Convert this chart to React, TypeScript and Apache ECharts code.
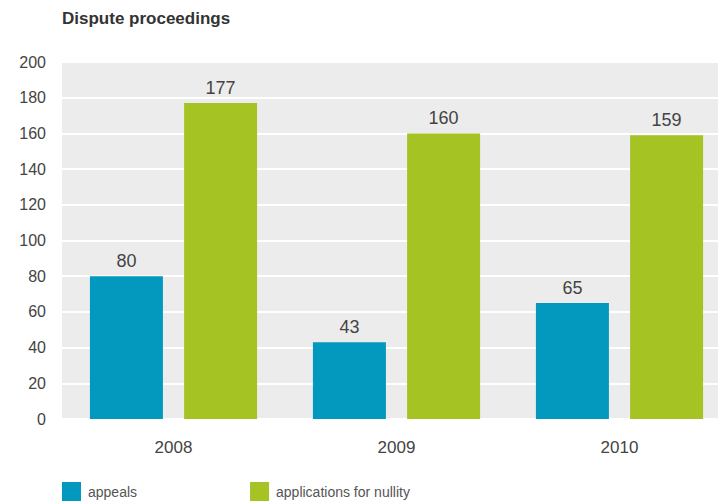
import React, { useEffect, useRef } from "react";
import * as echarts from "echarts";

const categories = ["2008", "2009", "2010"];
const appeals = [80, 43, 65];
const nullity = [177, 160, 159];
const seriesNames = ["appeals", "applications for nullity"];
const titleText = "Dispute proceedings";

const FONT = "'Liberation Sans', Arial, Helvetica, sans-serif";

export default function App() {
  const ref = useRef<HTMLDivElement>(null);
  useEffect(() => {
    if (!ref.current) return;
    const chart = echarts.init(ref.current, undefined, { renderer: "svg" });
    chart.setOption({
      animation: false,
      backgroundColor: "#ffffff",
      textStyle: { fontFamily: FONT },
      title: {
        text: titleText,
        left: 62,
        top: 10,
        padding: 0,
        textStyle: { fontFamily: FONT, fontSize: 17, fontWeight: "bold", color: "#333" },
      },
      legend: {
        left: 62,
        top: 482,
        padding: 0,
        itemWidth: 19,
        itemHeight: 19,
        itemGap: 113,
        icon: "rect",
        textStyle: { fontFamily: FONT, fontSize: 14, color: "#555", padding: [0, 0, 0, 2] },
        data: seriesNames,
      },
      grid: {
        left: 62,
        top: 62,
        width: 669,
        height: 357,
        show: true,
        backgroundColor: "#ececec",
        borderWidth: 0,
        containLabel: false,
      },
      xAxis: {
        type: "category",
        data: categories,
        axisLine: { show: false },
        axisTick: { show: false },
        axisLabel: { margin: 20, fontFamily: FONT, fontSize: 17, color: "#444" },
      },
      yAxis: {
        type: "value",
        min: 0,
        max: 200,
        interval: 20,
        axisLine: { show: false },
        axisTick: { show: false },
        axisLabel: { margin: 16, fontFamily: FONT, fontSize: 16, color: "#444" },
        splitLine: { lineStyle: { color: "#ffffff", width: 2 } },
      },
      series: [
        {
          name: seriesNames[0],
          type: "bar",
          data: appeals,
          barWidth: 73,
          barGap: "29%",
          itemStyle: { color: "#0398be" },
          label: { show: true, position: "top", distance: 6, fontFamily: FONT, fontSize: 18, color: "#444" },
        },
        {
          name: seriesNames[1],
          type: "bar",
          data: nullity,
          barWidth: 73,
          barGap: "29%",
          itemStyle: { color: "#a5c424" },
          label: { show: true, position: "top", distance: 6, fontFamily: FONT, fontSize: 18, color: "#444" },
        },
      ],
    });
    return () => chart.dispose();
  }, []);
  return (
    <div style={{ position: "fixed", left: 0, top: 0, width: 718, height: 504, overflow: "hidden", background: "#ffffff" }}>
      <div ref={ref} style={{ position: "absolute", left: 0, top: 0, width: 740, height: 504 }} />
    </div>
  );
}
